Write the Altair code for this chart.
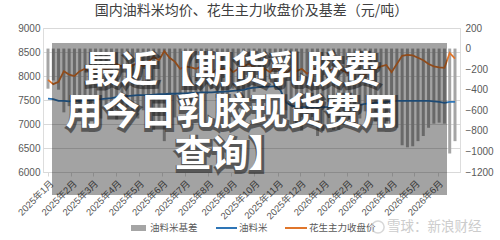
import altair as alt
import pandas as pd

# weekly observations, 2025-01-01 onward
dates = pd.date_range("2025-01-01", periods=78, freq="7D")

oil_rice = [7530, 7520, 7480, 7480, 7470, 7480, 7480, 7490, 7500, 7510,
            7520, 7530, 7540, 7560, 7570, 7580, 7590, 7600, 7600, 7600,
            7610, 7620, 7620, 7630, 7630, 7640, 7640, 7650, 7650, 7660,
            7660, 7660, 7670, 7670, 7680, 7690, 7700, 7710, 7740, 7760,
            7770, 7780, 7780, 7790, 7700, 7450, 7380, 7360, 7350, 7350,
            7350, 7350, 7350, 7350, 7360, 7360, 7360, 7360, 7380, 7400,
            7420, 7430, 7440, 7450, 7460, 7470, 7480, 7480, 7480, 7480,
            7480, 7480, 7480, 7470, 7460, 7440, 7460, 7460]

peanut = [7920, 7830, 7880, 8100, 8030, 8000, 8100, 8150, 8080, 8150,
          8200, 8120, 8180, 8250, 8200, 8150, 8220, 8280, 8200, 8300,
          8400, 8330, 8520, 8380, 8300, 8150, 8200, 8180, 8150, 8200,
          8100, 8050, 8150, 8130, 8200, 8080, 8150, 8200, 8250, 8180,
          8100, 8150, 8080, 8180, 8100, 8050, 8150, 8100, 8150, 8050,
          8100, 8200, 8150, 8100, 8150, 8150, 8100, 8050, 8100, 8080,
          8030, 8100, 8150, 8200, 8230, 8080, 8250, 8420, 8440, 8430,
          8380, 8330, 8250, 8200, 8180, 8170, 8480, 8360]

basis = [-390, -310, -400, -620, -560, -520, -620, -660, -580, -640,
         -680, -590, -640, -690, -630, -570, -630, -680, -600, -700,
         -790, -710, -900, -750, -670, -510, -560, -530, -500, -540,
         -440, -390, -480, -460, -520, -390, -450, -490, -510, -420,
         -330, -370, -300, -390, -400, -600, -770, -740, -800, -700,
         -750, -850, -800, -750, -790, -790, -740, -690, -720, -680,
         -610, -670, -710, -750, -770, -610, -770, -940, -960, -950,
         -900, -850, -770, -730, -720, -730, -1020, -900]

left_ticks = [6000, 6500, 7000, 7500, 8000, 8500, 9000]
right_ticks = [-1200, -1000, -800, -600, -400, -200, 0, 200]
month_ticks = [(2025, m) for m in range(1, 13)] + [(2026, m) for m in range(1, 7)]

title_text = "国内油料米均价、花生主力收盘价及基差（元/吨）"
overlay_lines = ["最近【期货乳胶费", "用今日乳胶现货费用", "查询】"]
legend_names = ["油料米基差", "油料米", "花生主力收盘价"]
watermark = "雪球：新浪财经"

FONT = "Liberation Sans, Noto Sans CJK SC"
CJK = "Noto Sans CJK SC"

df = pd.DataFrame({"date": dates, "oil": oil_rice, "peanut": peanut, "basis": basis})
long_df = pd.concat([
    pd.DataFrame({"date": dates, "series": "oil", "value": oil_rice}),
    pd.DataFrame({"date": dates, "series": "peanut", "value": peanut}),
])
one = pd.DataFrame({"k": [0]})

x_enc = alt.X(
    "date:T",
    scale=alt.Scale(domain=[alt.DateTime(year=2025, month=1, date=1),
                            alt.DateTime(year=2026, month=6, date=24)]),
    axis=alt.Axis(
        values=[alt.DateTime(year=y, month=m, date=1) for y, m in month_ticks],
        format="%Y年%-m月", labelAngle=-45, title=None, grid=False, labelOverlap=False,
        domainColor="#d9d9d9", tickColor="#d9d9d9", tickSize=4,
        labelFontSize=9.5, labelColor="#595959", labelFont=FONT, labelPadding=2,
    ),
)

bars = alt.Chart(df).mark_bar(size=3, color="#a5a5a5").encode(
    x=x_enc,
    y=alt.Y("basis:Q", scale=alt.Scale(domain=[-1200, 200]),
            axis=alt.Axis(orient="right", values=right_ticks, format="d", grid=False, domain=False,
                          ticks=False, title=None, labelPadding=5, labelFontSize=10,
                          labelColor="#595959", labelFont=FONT)),
)

lines = alt.Chart(long_df).mark_line(strokeWidth=1.8).encode(
    x=x_enc,
    y=alt.Y("value:Q", scale=alt.Scale(domain=[6000, 9000]),
            axis=alt.Axis(orient="left", values=left_ticks, format="d", grid=True,
                          gridColor="#d9d9d9", domain=False, ticks=False, title=None,
                          labelPadding=3, labelFontSize=10, labelColor="#595959",
                          labelFont=FONT)),
    color=alt.Color("series:N", scale=alt.Scale(domain=["oil", "peanut"],
                                                range=["#2e75b6", "#e0762b"]), legend=None),
)

overlay = alt.Chart(one).mark_rect(color="#000000", opacity=0.36).encode(
    x=alt.value(9), x2=alt.value(404), y=alt.value(15), y2=alt.value(167))

layers = [bars, lines, overlay]
for txt, cx, cy in zip(overlay_lines, [189, 189, 187], [44, 86, 128]):
    layers.append(alt.Chart(one).mark_text(
        text=txt, font=CJK, fontSize=37, fontWeight="bold", align="center", baseline="middle",
        color="#1a1a1a", opacity=0.55, stroke="#1a1a1a", strokeWidth=4, dx=1, dy=2,
    ).encode(x=alt.value(cx), y=alt.value(cy)))
    layers.append(alt.Chart(one).mark_text(
        text=txt, font=CJK, fontSize=37, fontWeight="bold", align="center", baseline="middle",
        color="#ffffff",
    ).encode(x=alt.value(cx), y=alt.value(cy)))

# legend
layers.append(alt.Chart(one).mark_rect(color="#a5a5a5").encode(
    x=alt.value(88), x2=alt.value(103), y=alt.value(197), y2=alt.value(203)))
layers.append(alt.Chart(one).mark_rule(color="#2e75b6", strokeWidth=2).encode(
    x=alt.value(173), x2=alt.value(194), y=alt.value(200)))
layers.append(alt.Chart(one).mark_rule(color="#e0762b", strokeWidth=2).encode(
    x=alt.value(242), x2=alt.value(264), y=alt.value(200)))
for txt, lx in zip(legend_names, [107, 196, 266]):
    layers.append(alt.Chart(one).mark_text(
        text=txt, font=CJK, fontSize=9.5, align="left", baseline="middle", color="#595959",
    ).encode(x=alt.value(lx), y=alt.value(200)))

# watermark
layers.append(alt.Chart(one).mark_point(shape="circle", filled=False, size=150,
                                        color="#c8c8c8", strokeWidth=1.5).encode(
    x=alt.value(335), y=alt.value(199)))
layers.append(alt.Chart(one).mark_text(
    text=watermark, font=CJK, fontSize=13.5, align="left", baseline="middle", color="#cccccc",
).encode(x=alt.value(344), y=alt.value(199)))

chart = alt.layer(*layers).resolve_scale(y="independent").properties(
    width=417, height=144,
    autosize=alt.AutoSizeParams(type="none"),
    padding={"left": 43, "top": 28, "right": 40, "bottom": 68},
    title=alt.TitleParams(title_text, font=CJK, fontSize=14, fontWeight="normal",
                          color="#404040", anchor="middle", offset=5),
).configure_view(stroke=None).configure(background="white")

chart.save("out.html", embed_options={"renderer": "svg", "actions": False})
